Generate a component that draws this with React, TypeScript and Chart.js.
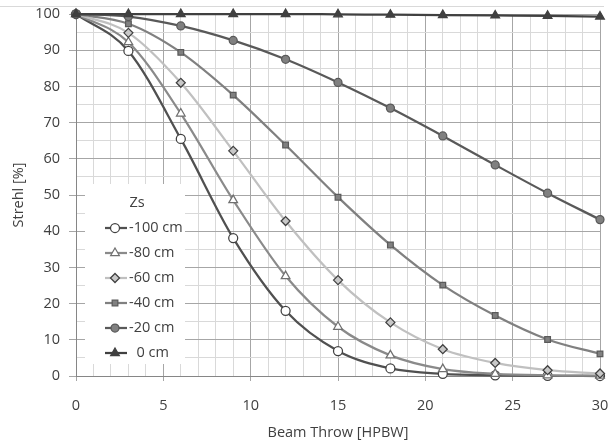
import React, { useEffect, useRef } from 'react';
import { Chart, registerables } from 'chart.js';
import { drawPoint } from 'chart.js/helpers';

Chart.register(...registerables);

// ---- data ----
const beamThrow = [0, 3, 6, 9, 12, 15, 18, 21, 24, 27, 30];
const zs100 = [100, 89.8, 65.5, 38.1, 18.0, 6.9, 2.1, 0.6, 0.2, 0.05, 0.0];
const zs80 = [100, 92.2, 72.5, 48.6, 27.6, 13.6, 5.7, 1.9, 0.6, 0.2, 0.1];
const zs60 = [100, 94.8, 81.0, 62.2, 42.8, 26.5, 14.8, 7.4, 3.6, 1.6, 0.7];
const zs40 = [100, 97.3, 89.4, 77.6, 63.8, 49.4, 36.2, 25.1, 16.7, 10.1, 6.1];
const zs20 = [100, 99.3, 96.7, 92.7, 87.5, 81.1, 74.0, 66.3, 58.3, 50.5, 43.2];
const zs0 = [100, 100, 100, 100, 100, 99.9, 99.8, 99.7, 99.6, 99.5, 99.3];
const seriesLabels = ['-100 cm', '-80 cm', '-60 cm', '-40 cm', '-20 cm', '  0 cm'];
const legendTitle = 'Zs';
const xTitle = 'Beam Throw [HPBW]';
const yTitle = 'Strehl [%]';

const FONT = '"Open Sans", "Noto Sans", sans-serif';
const FONT_SIZE = 14.5;
const TEXT = '#404040';
const MAJOR = '#a6a6a6';
const MINOR = '#d9d9d9';

const toPts = (ys: number[]) => ys.map((y, i) => ({ x: beamThrow[i], y }));

const legendPlugin = {
  id: 'boxLegend',
  afterDraw(chart: any) {
    const ctx = chart.ctx as CanvasRenderingContext2D;
    const { left, top } = chart.chartArea;
    const bx = left + 9;
    const by = top + 170;
    const bw = 100;
    const bh = 180;
    ctx.save();
    ctx.fillStyle = '#ffffff';
    ctx.fillRect(bx, by, bw, bh);
    ctx.font = `${FONT_SIZE}px ${FONT}`;
    ctx.fillStyle = TEXT;
    ctx.textAlign = 'center';
    ctx.textBaseline = 'middle';
    ctx.fillText(legendTitle, bx + 52, by + 19);
    chart.data.datasets.forEach((ds: any, i: number) => {
      const y = by + 44 + 25 * i;
      ctx.beginPath();
      ctx.strokeStyle = ds.borderColor;
      ctx.lineWidth = ds.borderWidth;
      ctx.moveTo(bx + 20, y);
      ctx.lineTo(bx + 42, y);
      ctx.stroke();
      ctx.fillStyle = ds.pointBackgroundColor;
      ctx.strokeStyle = ds.pointBorderColor;
      ctx.lineWidth = ds.pointBorderWidth;
      drawPoint(ctx, {
        pointStyle: ds.pointStyle,
        radius: ds.pointRadius,
        borderWidth: ds.pointBorderWidth,
        rotation: 0,
      } as any, bx + 30, y);
      ctx.fillStyle = TEXT;
      ctx.textAlign = 'left';
      ctx.fillText(ds.label, bx + 44, y);
    });
    ctx.restore();
  },
};

export default function App() {
  const ref = useRef<HTMLCanvasElement>(null);
  useEffect(() => {
    if (!ref.current) return;
    const mk = (
      label: string,
      data: number[],
      line: string,
      style: string,
      fill: string,
      border: string,
      radius: number,
      order: number
    ) => ({
      label,
      data: toPts(data),
      borderColor: line,
      borderWidth: 2.25,
      pointStyle: style,
      pointBackgroundColor: fill,
      pointBorderColor: border,
      pointBorderWidth: 1.25,
      pointRadius: radius,
      cubicInterpolationMode: 'monotone' as const,
      clip: false as any,
      order,
    });
    const chart = new Chart(ref.current, {
      type: 'line',
      data: {
        datasets: [
          mk(seriesLabels[0], zs100, '#505050', 'circle', '#ffffff', '#404040', 4.5, 5),
          mk(seriesLabels[1], zs80, '#8a8a8a', 'triangle', '#ffffff', '#707070', 5, 4),
          mk(seriesLabels[2], zs60, '#c0c0c0', 'rectRot', '#c8c8c8', '#404040', 4.5, 3),
          mk(seriesLabels[3], zs40, '#808080', 'rect', '#808080', '#5a5a5a', 4, 2),
          mk(seriesLabels[4], zs20, '#595959', 'circle', '#808080', '#595959', 4, 1),
          mk(seriesLabels[5], zs0, '#404040', 'triangle', '#404040', '#404040', 5, 0),
        ] as any,
      },
      options: {
        responsive: false,
        animation: false,
        devicePixelRatio: 1,
        layout: { padding: { top: 14, right: 10, bottom: 0, left: 0 } },
        plugins: { legend: { display: false }, tooltip: { enabled: false } },
        scales: {
          x: {
            type: 'linear',
            min: 0,
            max: 30,
            afterFit: (s: any) => { s.height = 66; s.paddingLeft = 0; s.paddingRight = 0; },
            ticks: {
              stepSize: 1,
              autoSkip: false,
              maxRotation: 0,
              padding: 16,
              color: TEXT,
              font: { family: FONT, size: FONT_SIZE },
              callback: (v: any) => (Number(v) % 5 === 0 ? String(v) : ''),
            },
            grid: {
              color: (c: any) => (c.tick && c.tick.value % 5 === 0 ? MAJOR : MINOR),
              tickColor: (c: any) => (c.tick && c.tick.value % 5 === 0 ? MAJOR : 'rgba(0,0,0,0)'),
              tickLength: 5,
              lineWidth: 1,
            },
            border: { color: '#868686', width: 1 },
            title: {
              display: true,
              text: xTitle,
              color: TEXT,
              font: { family: FONT, size: FONT_SIZE },
              padding: { top: 0, bottom: 0 },
            },
          },
          y: {
            type: 'linear',
            min: 0,
            max: 100,
            afterFit: (s: any) => { s.width = 76; s.paddingTop = 0; s.paddingBottom = 0; },
            ticks: {
              stepSize: 5,
              autoSkip: false,
              padding: 9,
              color: TEXT,
              font: { family: FONT, size: FONT_SIZE },
              callback: (v: any) => (Number(v) % 10 === 0 ? String(v) : ''),
            },
            grid: {
              color: (c: any) => (c.tick && c.tick.value % 10 === 0 ? MAJOR : MINOR),
              tickColor: (c: any) => (c.tick && c.tick.value % 10 === 0 ? MAJOR : 'rgba(0,0,0,0)'),
              tickLength: 7,
              lineWidth: 1,
            },
            border: { color: '#868686', width: 1 },
            title: {
              display: true,
              text: yTitle,
              color: TEXT,
              font: { family: FONT, size: FONT_SIZE },
              padding: { top: 10, bottom: 0 },
            },
          },
        },
      } as any,
      plugins: [legendPlugin],
    });
    return () => chart.destroy();
  }, []);

  return (
    <div style={{ position: 'absolute', left: 0, top: 0, width: 610, height: 442, background: '#fff' }}>
      <div style={{ position: 'absolute', left: 0, top: 6, width: 604, borderTop: '1px solid #d9d9d9' }} />
      <canvas ref={ref} width={610} height={442} style={{ position: 'absolute', left: 0, top: 0 }} />
    </div>
  );
}
